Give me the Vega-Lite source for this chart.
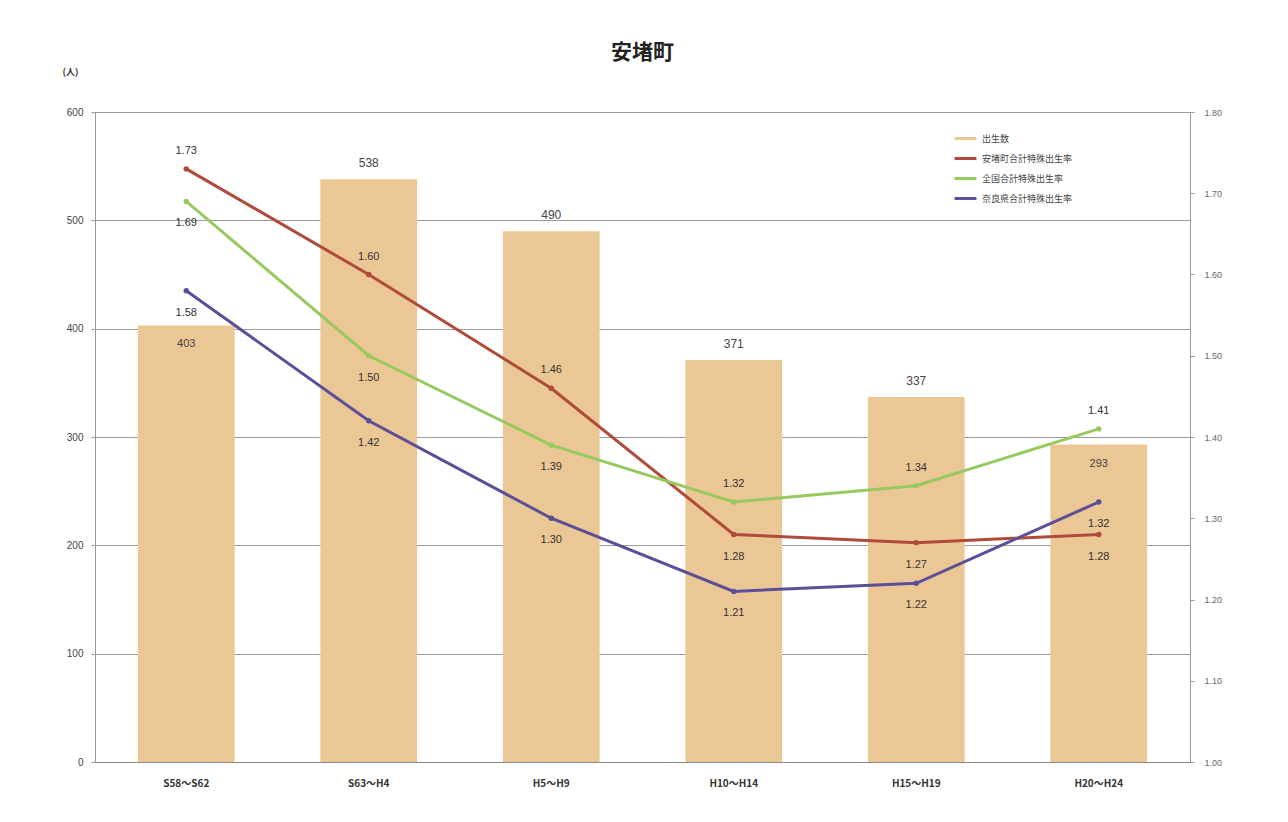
{
  "$schema": "https://vega.github.io/schema/vega-lite/v6.json",
  "width": 1095,
  "height": 650,
  "autosize": "none",
  "padding": {"left": 95, "top": 112, "right": 98, "bottom": 60},
  "background": "white",
  "title": {"text": "安堵町", "fontSize": 21, "fontWeight": "bold", "font": "Noto Sans CJK JP", "color": "#222", "offset": 4, "anchor": "middle"},
  "config": {
    "view": {"stroke": null},
    "font": "Noto Sans CJK JP",
    "axis": {"labelFont": "Liberation Sans", "labelColor": "#444", "labelFontSize": 10, "domainColor": "#999", "gridColor": "#999", "tickColor": "#999"}
  },
  "datasets": {
    "births": [
      {"period": "S58～S62", "births": 403},
      {"period": "S63～H4", "births": 538},
      {"period": "H5～H9", "births": 490},
      {"period": "H10～H14", "births": 371},
      {"period": "H15～H19", "births": 337},
      {"period": "H20～H24", "births": 293}
    ],
    "rates": [
      {"period": "S58～S62", "series": "安堵町合計特殊出生率", "rate": 1.73},
      {"period": "S63～H4", "series": "安堵町合計特殊出生率", "rate": 1.60},
      {"period": "H5～H9", "series": "安堵町合計特殊出生率", "rate": 1.46},
      {"period": "H10～H14", "series": "安堵町合計特殊出生率", "rate": 1.28},
      {"period": "H15～H19", "series": "安堵町合計特殊出生率", "rate": 1.27},
      {"period": "H20～H24", "series": "安堵町合計特殊出生率", "rate": 1.28},
      {"period": "S58～S62", "series": "全国合計特殊出生率", "rate": 1.69},
      {"period": "S63～H4", "series": "全国合計特殊出生率", "rate": 1.50},
      {"period": "H5～H9", "series": "全国合計特殊出生率", "rate": 1.39},
      {"period": "H10～H14", "series": "全国合計特殊出生率", "rate": 1.32},
      {"period": "H15～H19", "series": "全国合計特殊出生率", "rate": 1.34},
      {"period": "H20～H24", "series": "全国合計特殊出生率", "rate": 1.41},
      {"period": "S58～S62", "series": "奈良県合計特殊出生率", "rate": 1.58},
      {"period": "S63～H4", "series": "奈良県合計特殊出生率", "rate": 1.42},
      {"period": "H5～H9", "series": "奈良県合計特殊出生率", "rate": 1.30},
      {"period": "H10～H14", "series": "奈良県合計特殊出生率", "rate": 1.21},
      {"period": "H15～H19", "series": "奈良県合計特殊出生率", "rate": 1.22},
      {"period": "H20～H24", "series": "奈良県合計特殊出生率", "rate": 1.32}
    ]
  },
  "encoding": {
    "x": {
      "field": "period", "type": "nominal",
      "sort": ["S58～S62", "S63～H4", "H5～H9", "H10～H14", "H15～H19", "H20～H24"],
      "scale": {"paddingInner": 0.47, "paddingOuter": 0.235},
      "axis": {"title": null, "labelAngle": 0, "ticks": false, "labelPadding": 16, "labelFontSize": 10, "labelFontWeight": "bold", "labelColor": "#333", "labelFont": "Noto Sans CJK JP", "domainColor": "#888"}
    }
  },
  "layer": [
    {
      "data": {"name": "births"},
      "encoding": {
        "y": {
          "field": "births", "type": "quantitative",
          "scale": {"domain": [0, 600]},
          "axis": {"title": "(人)", "titleAngle": 0, "titleFontSize": 9, "titleFontWeight": "bold", "titleColor": "#333", "titleX": -25, "titleY": -36, "titleFont": "Noto Sans CJK JP", "tickCount": 6, "grid": true, "ticks": true, "tickSize": 4, "labelPadding": 8}
        }
      },
      "layer": [
        {"mark": {"type": "bar", "color": "#EBC796"}},
        {
          "transform": [{"filter": "datum.period != 'S58～S62' && datum.period != 'H20～H24'"}],
          "mark": {"type": "text", "dy": -16, "fontSize": 12, "color": "#444", "font": "Liberation Sans"},
          "encoding": {"text": {"field": "births", "type": "quantitative"}}
        },
        {
          "transform": [{"filter": "datum.period == 'S58～S62' || datum.period == 'H20～H24'"}],
          "mark": {"type": "text", "dy": 19, "fontSize": 11, "color": "#444", "font": "Liberation Sans"},
          "encoding": {"text": {"field": "births", "type": "quantitative"}}
        }
      ]
    },
    {
      "data": {"name": "rates"},
      "encoding": {
        "y": {
          "field": "rate", "type": "quantitative",
          "scale": {"domain": [1.0, 1.8], "zero": false},
          "axis": {"orient": "right", "title": null, "format": ".2f", "tickCount": 8, "grid": false, "tickSize": 4, "labelPadding": 10, "labelColor": "#666", "labelFontSize": 9}
        }
      },
      "layer": [
        {
          "mark": {"type": "line", "strokeWidth": 3, "point": {"filled": true, "size": 30}},
          "encoding": {
            "color": {
              "field": "series", "type": "nominal",
              "scale": {"domain": ["出生数", "安堵町合計特殊出生率", "全国合計特殊出生率", "奈良県合計特殊出生率"], "range": ["#EBC796", "#B04A3A", "#98C960", "#5B4F98"]},
              "legend": {"title": null, "orient": "none", "legendX": 858, "legendY": 14, "symbolType": "stroke", "symbolStrokeWidth": 3, "symbolSize": 480, "rowPadding": 1, "labelFontSize": 9, "labelColor": "#444", "labelFont": "Noto Sans CJK JP", "padding": 0}
            }
          }
        },
        {
          "transform": [{"filter": "(datum.series == '安堵町合計特殊出生率' && indexof(['S58～S62','S63～H4','H5～H9'], datum.period) >= 0) || (datum.series == '全国合計特殊出生率' && indexof(['H10～H14','H15～H19','H20～H24'], datum.period) >= 0)"}],
          "mark": {"type": "text", "dy": -18, "fontSize": 11, "color": "#333", "font": "Liberation Sans"},
          "encoding": {"text": {"field": "rate", "type": "quantitative", "format": ".2f"}}
        },
        {
          "transform": [{"filter": "!((datum.series == '安堵町合計特殊出生率' && indexof(['S58～S62','S63～H4','H5～H9'], datum.period) >= 0) || (datum.series == '全国合計特殊出生率' && indexof(['H10～H14','H15～H19','H20～H24'], datum.period) >= 0))"}],
          "mark": {"type": "text", "dy": 22, "fontSize": 11, "color": "#333", "font": "Liberation Sans"},
          "encoding": {"text": {"field": "rate", "type": "quantitative", "format": ".2f"}}
        }
      ]
    }
  ],
  "resolve": {"scale": {"y": "independent"}}
}
